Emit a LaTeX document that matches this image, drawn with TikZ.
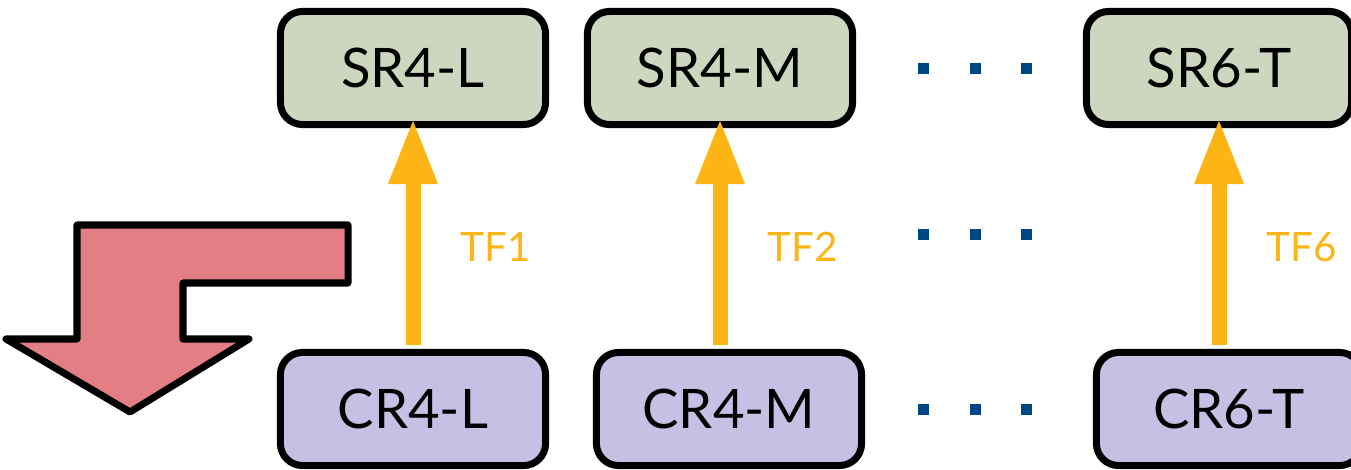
\documentclass[tikz,border=0pt]{standalone}
\usepackage{fontspec}
\setmainfont{Lato}
\usetikzlibrary{arrows.meta}
\definecolor{srgreen}{RGB}{205,214,190}
\definecolor{crpurple}{RGB}{200,192,228}
\definecolor{tforange}{RGB}{253,180,21}
\definecolor{dotblue}{RGB}{0,70,135}
\definecolor{bendred}{RGB}{226,126,132}

\begin{document}
\begin{tikzpicture}[
x=0.01cm, y=-0.01cm,
reg/.style={draw=black, line width=0.07cm, rounded corners=2.2mm, minimum width=2.65cm, minimum height=1.13cm, inner sep=0pt, font=\fontsize{15.5}{18}\selectfont},
sr/.style={reg, fill=srgreen},
cr/.style={reg, fill=crpurple},
tf/.style={-{Triangle[length=0.66cm, width=0.45cm]}, line width=0.15cm, draw=tforange, shorten <=0.04cm, shorten >=-0.1cm},
tflabel/.style={text=tforange, font=\fontsize{11.5}{14}\selectfont, pos=0.46, right=0.28cm},
bentarrow/.style={draw=black, fill=bendred, line width=0.07cm, line join=round}
]
\clip (0,0) rectangle (1351,470);

% bent arrow on the left
\draw[bentarrow] (77,225) -- (348,225) -- (348,283) -- (183,283) -- (183,339)
  -- (249,339) -- (130,412) -- (6,339) -- (77,339) -- cycle;

% upper row
\node[sr] (srl) at (413,68) {SR4-L};
\node[sr] (srm) at (720,68) {SR4-M};
\node[sr] (srt) at (1219,68) {SR6-T};

% lower row
\node[cr] (crl) at (413,409) {CR4-L};
\node[cr] (crm) at (729,409) {CR4-M};
\node[cr] (crt) at (1229,409) {CR6-T};

% transfers
\draw[tf] (crl.north -| srl.south) -- (srl.south) node[tflabel] {TF1};
\draw[tf] (crm.north -| srm.south) -- (srm.south) node[tflabel] {TF2};
\draw[tf] (crt.north -| srt.south) -- (srt.south) node[tflabel] {TF6};

% dots between the columns
\foreach \y in {69,235,409}
  \foreach \x in {923,975,1026}
    \fill[dotblue] (\x-5.5,\y-5.5) rectangle ++(11,11);
\end{tikzpicture}
\end{document}
